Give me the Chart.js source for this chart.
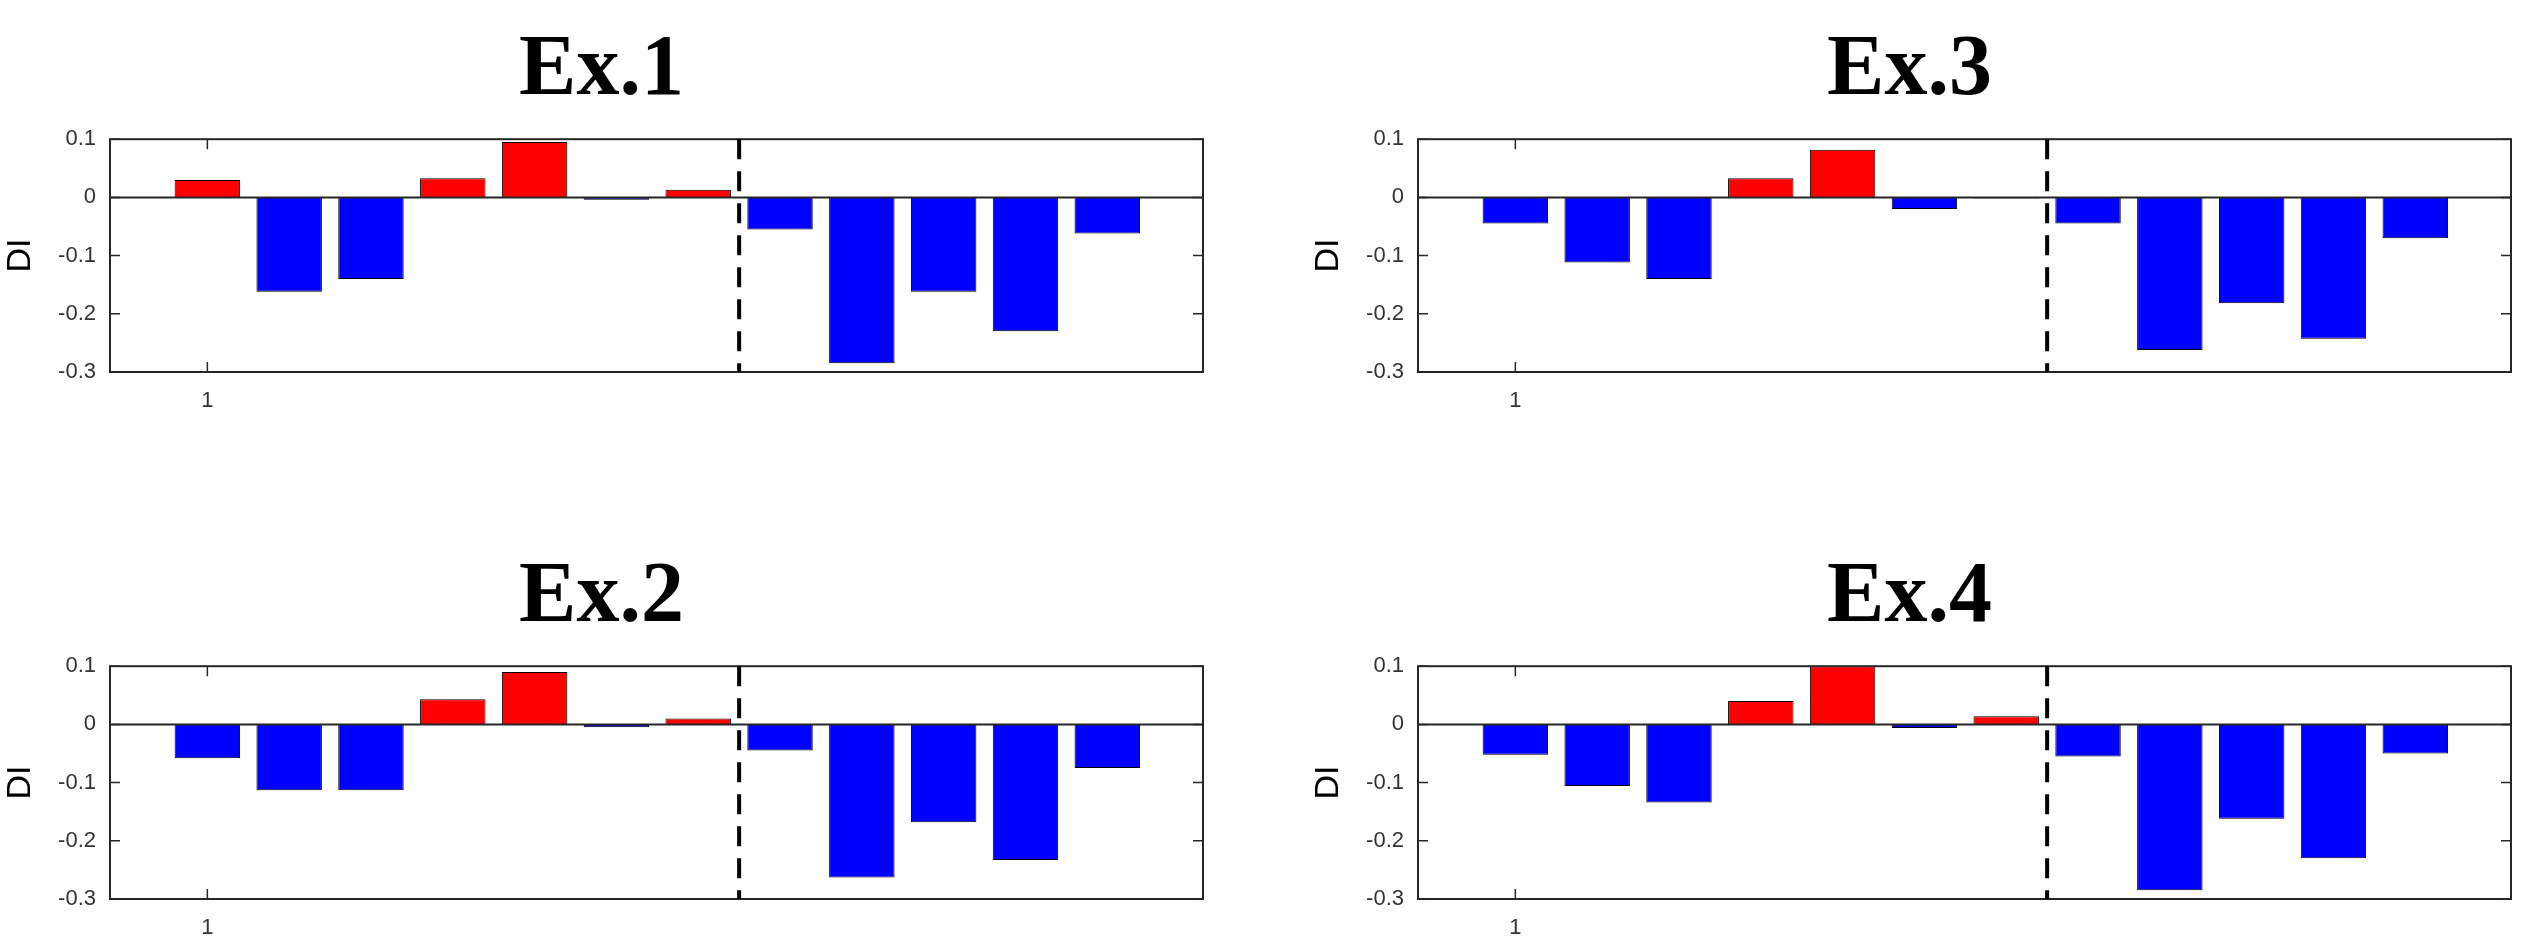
<!DOCTYPE html>
<html>
<head>
<meta charset="utf-8">
<script src="https://cdn.jsdelivr.net/npm/chart.js@4"></script>
<style>
    body { margin: 0; background: #fff; width: 2535px; height: 946px; position: relative; overflow: hidden; }
    .panel { position: absolute; width: 1230px; height: 422px; }
</style>
</head>
<body>
<div class="panel" style="left:0;top:0"><canvas id="c1"></canvas></div>
<div class="panel" style="left:1308px;top:0"><canvas id="c3"></canvas></div>
<div class="panel" style="left:0;top:527px"><canvas id="c2"></canvas></div>
<div class="panel" style="left:1308px;top:527px"><canvas id="c4"></canvas></div>
<script>
'use strict';

var positions = [1, 2, 3, 4, 5, 6, 7, 8, 9, 10, 11, 12],
    yTicks = [0.1, 0, -0.1, -0.2, -0.3],
    xTickLabels = ['1'],
    ex1 = [0.030, -0.162, -0.140, 0.033, 0.095, -0.004, 0.013, -0.055, -0.285, -0.162, -0.230, -0.062],
    ex2 = [-0.058, -0.113, -0.113, 0.043, 0.090, -0.005, 0.010, -0.045, -0.263, -0.168, -0.233, -0.075],
    ex3 = [-0.045, -0.112, -0.140, 0.033, 0.082, -0.020, -0.002, -0.045, -0.262, -0.182, -0.243, -0.070],
    ex4 = [-0.052, -0.106, -0.134, 0.040, 0.100, -0.006, 0.014, -0.055, -0.285, -0.162, -0.230, -0.050],
    splitAt = 7.5;

var framePlugin = {
        id: 'frame',
        afterDatasetsDraw: function (chart) {
            var ctx = chart.ctx,
                a = chart.chartArea,
                x = chart.scales.x,
                y = chart.scales.y,
                y0 = y.getPixelForValue(0),
                xs = x.getPixelForValue(splitAt);

            ctx.save();
            ctx.strokeStyle = '#262626';
            ctx.lineWidth = 2;
            ctx.strokeRect(a.left, a.top, a.right - a.left, a.bottom - a.top);

            // zero line
            ctx.beginPath();
            ctx.moveTo(a.left, y0);
            ctx.lineTo(a.right, y0);
            ctx.stroke();

            // inward tick marks
            ctx.lineWidth = 1.5;
            yTicks.forEach(function (v) {
                var p = y.getPixelForValue(v);
                ctx.beginPath();
                ctx.moveTo(a.left, p); ctx.lineTo(a.left + 10, p);
                ctx.moveTo(a.right, p); ctx.lineTo(a.right - 10, p);
                ctx.stroke();
            });
            var px = x.getPixelForValue(1);
            ctx.beginPath();
            ctx.moveTo(px, a.top); ctx.lineTo(px, a.top + 10);
            ctx.moveTo(px, a.bottom); ctx.lineTo(px, a.bottom - 10);
            ctx.stroke();

            // dashed divider
            ctx.strokeStyle = '#000';
            ctx.lineWidth = 4;
            ctx.setLineDash([20, 12]);
            ctx.beginPath();
            ctx.moveTo(xs, a.top);
            ctx.lineTo(xs, a.bottom);
            ctx.stroke();
            ctx.restore();
        }
    },

    buildData = function (values) {
        return positions.map(function (p, i) {
            return { x: p, y: values[i] };
        });
    },

    makeChart = function (id, title, values) {
        return new Chart(document.getElementById(id), {
            type: 'bar',
            data: {
                datasets: [{
                    data: buildData(values),
                    backgroundColor: values.map(function (v) { return v >= 0 ? '#ff0000' : '#0000ff'; }),
                    borderColor: '#000',
                    borderWidth: 1,
                    categoryPercentage: 1,
                    barPercentage: 0.8
                }]
            },
            options: {
                responsive: true,
                maintainAspectRatio: false,
                animation: false,
                layout: { padding: { right: 27 } },
                plugins: {
                    legend: { display: false },
                    tooltip: { enabled: false },
                    title: {
                        display: true,
                        text: title,
                        color: '#000',
                        font: { family: 'Liberation Serif', weight: 'bold', size: 86, lineHeight: 1.2 },
                        padding: { top: 20, bottom: 16 }
                    }
                },
                scales: {
                    x: {
                        type: 'linear',
                        offset: false,
                        min: -0.19,
                        max: 13.17,
                        afterBuildTicks: function (scale) {
                            scale.ticks = [{ value: 1 }];
                        },
                        afterFit: function (scale) { scale.height = 50; },
                        grid: { display: false, offset: false },
                        border: { display: false },
                        ticks: {
                            color: '#333',
                            font: { family: 'Liberation Sans', size: 22 },
                            padding: 8,
                            callback: function () { return xTickLabels[0]; }
                        }
                    },
                    y: {
                        min: -0.3,
                        max: 0.1,
                        afterBuildTicks: function (scale) {
                            scale.ticks = yTicks.map(function (v) { return { value: v }; });
                        },
                        afterFit: function (scale) { scale.width = 110; },
                        grid: { display: false },
                        border: { display: false },
                        ticks: {
                            color: '#333',
                            font: { family: 'Liberation Sans', size: 22 },
                            padding: 6,
                            callback: function (v) { return String(Math.round(v * 10) / 10); }
                        },
                        title: {
                            display: true,
                            text: 'DI',
                            color: '#000',
                            font: { family: 'Liberation Sans', size: 34 },
                            padding: 0
                        }
                    }
                }
            },
            plugins: [framePlugin]
        });
    };

makeChart('c1', 'Ex.1', ex1);
makeChart('c2', 'Ex.2', ex2);
makeChart('c3', 'Ex.3', ex3);
makeChart('c4', 'Ex.4', ex4);
</script>
</body>
</html>
